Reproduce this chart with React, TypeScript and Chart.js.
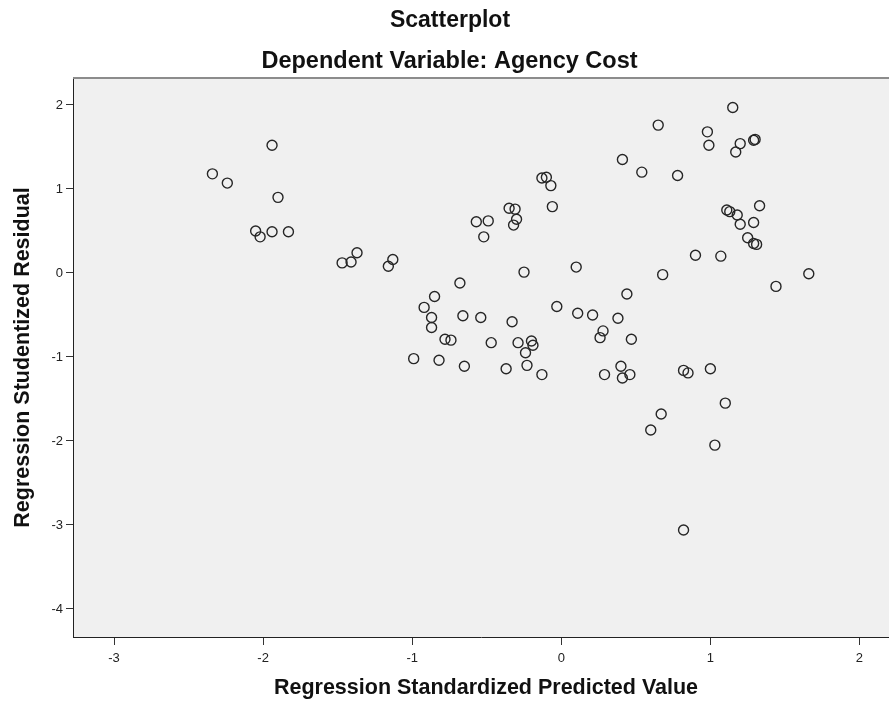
import React, { useEffect, useRef } from "react";
import { Chart, registerables } from "chart.js";

Chart.register(...registerables);

const predictedValues = [
  -2.34, -2.24, -1.94, -1.90, -2.05, -2.02, -1.94, -1.83,
  -1.47, -1.41, -1.37, -1.16, -1.13,
  -0.68, -0.85, -0.92, -0.87, -0.87, -0.78, -0.74,
  -0.99, -0.82, -0.65,
  -0.66, -0.54, -0.33,
  -0.47, -0.29, -0.20, -0.19, -0.24, -0.23, -0.37, -0.13,
  -0.03, 0.11,
  -0.57, -0.49, -0.52,
  -0.35, -0.31, -0.30, -0.32,
  -0.13, -0.10, -0.07, -0.06,
  -0.25, 0.10,
  1.15, 0.65, 0.98, 0.99, 1.20, 1.17, 1.29, 1.30,
  0.41, 0.54, 0.78,
  1.11, 1.13, 1.18, 1.20, 1.33, 1.29, 1.25, 1.29, 1.31,
  0.90, 1.07,
  1.66, 1.44, 0.68, 0.44,
  0.21, 0.38, 0.28, 0.26, 0.47,
  0.29, 0.40, 0.41, 0.46,
  0.82, 0.85, 1.00,
  1.10, 0.67, 0.60, 1.03, 0.82,
];

const studentizedResiduals = [
  1.18, 1.07, 1.52, 0.90, 0.50, 0.43, 0.49, 0.49,
  0.12, 0.13, 0.24, 0.08, 0.16,
  -0.12, -0.28, -0.41, -0.53, -0.65, -0.79, -0.80,
  -1.02, -1.04, -1.11,
  -0.51, -0.53, -0.58,
  -0.83, -0.83, -0.81, -0.86, -0.95, -1.10, -1.14, -1.21,
  -0.40, -0.48,
  0.61, 0.62, 0.43,
  0.77, 0.76, 0.64, 0.57,
  1.13, 1.14, 1.04, 0.79,
  0.01, 0.07,
  1.97, 1.76, 1.68, 1.52, 1.54, 1.44, 1.58, 1.59,
  1.35, 1.20, 1.16,
  0.75, 0.73, 0.69, 0.58, 0.80, 0.60, 0.42, 0.35, 0.34,
  0.21, 0.20,
  -0.01, -0.16, -0.02, -0.25,
  -0.50, -0.54, -0.69, -0.77, -0.79,
  -1.21, -1.11, -1.25, -1.21,
  -1.16, -1.19, -1.14,
  -1.55, -1.68, -1.87, -2.05, -3.06,
];

const xTickValues = [-3, -2, -1, 0, 1, 2];
const yTickValues = [-4, -3, -2, -1, 0, 1, 2];

const chartTitle = "Scatterplot";
const chartSubtitle = "Dependent Variable: Agency Cost";
const xAxisTitle = "Regression Standardized Predicted Value";
const yAxisTitle = "Regression Studentized Residual";

const FONT = "'Liberation Sans', Arial, sans-serif";

const titleStyle = { x: 450, y: 21, size: 23 };
const subtitleStyle = { x: 449.5, y: 62, size: 23.5 };
const xTitleStyle = { x: 486, y: 688, size: 21.5 };
const yTitleStyle = { x: 23, y: 357.5, size: 21.5 };

function drawTitleText(ctx: CanvasRenderingContext2D, text: string, st: any, rotate: boolean) {
  ctx.save();
  ctx.font = `bold ${st.size}px ${FONT}`;
  ctx.translate(st.x, st.y);
  if (rotate) ctx.rotate(-Math.PI / 2);
  ctx.fillStyle = "#111111";
  ctx.textAlign = "center";
  ctx.textBaseline = "middle";
  ctx.fillText(text, 0, 0);
  ctx.restore();
}

const spssPlugin = {
  id: "spssDecor",
  beforeDraw(chart: any) {
    const { ctx, chartArea, width, height } = chart;
    ctx.save();
    ctx.fillStyle = "#ffffff";
    ctx.fillRect(0, 0, width, height);
    ctx.fillStyle = "#f0f0f0";
    ctx.fillRect(chartArea.left, chartArea.top, chartArea.right - chartArea.left, chartArea.bottom - chartArea.top);
    ctx.restore();
  },
  afterDraw(chart: any) {
    const { ctx, chartArea } = chart;
    ctx.save();
    ctx.strokeStyle = "#8c8c8c";
    ctx.lineWidth = 2;
    ctx.beginPath();
    ctx.moveTo(chartArea.left, chartArea.top);
    ctx.lineTo(chartArea.right, chartArea.top);
    ctx.stroke();
    ctx.restore();
    drawTitleText(ctx, chartTitle, titleStyle, false);
    drawTitleText(ctx, chartSubtitle, subtitleStyle, false);
    drawTitleText(ctx, xAxisTitle, xTitleStyle, false);
    drawTitleText(ctx, yAxisTitle, yTitleStyle, true);
  },
};

export default function App() {
  const canvasRef = useRef<HTMLCanvasElement | null>(null);

  useEffect(() => {
    if (!canvasRef.current) return;
    const data = predictedValues.map((x, i) => ({ x, y: studentizedResiduals[i] }));
    const chart = new Chart(canvasRef.current, {
      type: "scatter",
      data: {
        datasets: [
          {
            label: "Residuals",
            data,
            pointStyle: "circle",
            pointRadius: 5,
            pointHoverRadius: 5,
            borderWidth: 1.4,
            borderColor: "#262626",
            backgroundColor: "rgba(0,0,0,0)",
          },
        ],
      },
      options: {
        responsive: false,
        animation: false,
        layout: { padding: { top: 78, left: 0, right: 0, bottom: 0 } },
        plugins: {
          legend: { display: false },
          tooltip: { enabled: false },
          title: { display: false, text: chartTitle },
          subtitle: { display: false, text: chartSubtitle },
        },
        scales: {
          x: {
            type: "linear",
            min: -3.275,
            max: 2.202,
            afterFit(scale: any) {
              scale.height = 71;
              scale.paddingLeft = 0;
              scale.paddingRight = 0;
            },
            afterBuildTicks(scale: any) {
              scale.ticks = xTickValues.map((v) => ({ value: v }));
            },
            grid: {
              display: true,
              drawOnChartArea: false,
              drawTicks: true,
              tickLength: 8,
              color: "#333333",
              lineWidth: 1,
            },
            border: { display: true, color: "#222222", width: 1 },
            ticks: {
              color: "#222222",
              padding: 6,
              font: { family: FONT, size: 13 },
              callback: (v: any) => String(v),
            },
            title: { display: false, text: xAxisTitle },
          },
          y: {
            type: "linear",
            min: -4.334,
            max: 2.321,
            afterFit(scale: any) {
              scale.width = 73;
              scale.paddingTop = 0;
              scale.paddingBottom = 0;
            },
            afterBuildTicks(scale: any) {
              scale.ticks = yTickValues.map((v) => ({ value: v }));
            },
            grid: {
              display: true,
              drawOnChartArea: false,
              drawTicks: true,
              tickLength: 7,
              color: "#333333",
              lineWidth: 1,
            },
            border: { display: true, color: "#222222", width: 1 },
            ticks: {
              color: "#222222",
              padding: 3,
              font: { family: FONT, size: 13 },
              callback: (v: any) => String(v),
            },
            title: { display: false, text: yAxisTitle },
          },
        },
      },
      plugins: [spssPlugin],
    });
    return () => chart.destroy();
  }, []);

  return (
    <div style={{ position: "fixed", left: 0, top: 0, width: 889, height: 708, overflow: "hidden", background: "#fff" }}>
      <canvas ref={canvasRef} width={896} height={708} style={{ display: "block", width: 896, height: 708 }} />
    </div>
  );
}
